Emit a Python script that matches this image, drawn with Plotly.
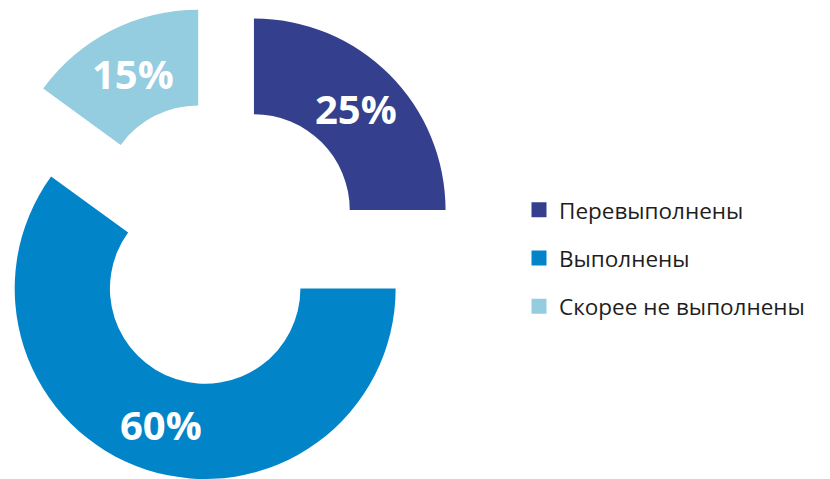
import math
import plotly.graph_objects as go

# Survey result: share of goals by completion status
labels = ["Перевыполнены", "Выполнены", "Скорее не выполнены"]
shares = [25, 60, 15]
colors = ["#343f8d", "#0284c9", "#93cddf"]

W, H = 830, 479
ring_center = (220, 244)   # px, common centre of the exploded ring
radius = 191.6             # px, outer radius
explode = 48               # px, how far each sector is pushed out
hole = 0.5

fig = go.Figure()
annotations = []

total = sum(shares)
cum = 0
for i, (lab, val, col) in enumerate(zip(labels, shares, colors)):
    # bisector of this sector, measured clockwise from 12 o'clock
    mid = math.radians((cum + val / 2) / total * 360)
    cum += val
    sx = ring_center[0] + explode * math.sin(mid)
    sy = ring_center[1] - explode * math.cos(mid)
    x0 = max(0.0, (sx - radius) / W)
    x1 = min(1.0, (sx + radius) / W)
    y0 = max(0.0, 1 - (sy + radius) / H)
    y1 = min(1.0, 1 - (sy - radius) / H)

    fig.add_trace(go.Pie(
        values=shares,
        labels=labels,
        sort=False,
        direction="clockwise",
        rotation=0,
        hole=hole,
        marker=dict(
            colors=[col if j == i else "rgba(0,0,0,0)" for j in range(len(shares))],
            line=dict(width=0),
        ),
        textinfo="none",
        domain=dict(x=[x0, x1], y=[y0, y1]),
        showlegend=False,
        hoverinfo="skip",
    ))

    # percentage label in the middle of the ring band, on the bisector
    r_eff = min((x1 - x0) * W, (y1 - y0) * H) / 2
    cx = (x0 + x1) / 2 * W
    cy = (1 - (y0 + y1) / 2) * H
    rho = r_eff * (1 + hole) / 2
    annotations.append(dict(
        x=(cx + rho * math.sin(mid)) / W,
        y=1 - (cy - rho * math.cos(mid)) / H,
        xref="paper", yref="paper",
        text=f"{val}%", showarrow=False,
        xanchor="center", yanchor="middle",
        font=dict(family="Open Sans", size=40, color="white", weight="bold"),
    ))

# legend entries
for lab, col in zip(labels, colors):
    fig.add_trace(go.Scatter(
        x=[None], y=[None], mode="markers", name=lab, legendgroup=lab,
        marker=dict(symbol="square", size=15, color=col),
    ))

fig.update_layout(
    width=W, height=H,
    margin=dict(l=0, r=0, t=0, b=0),
    paper_bgcolor="white",
    plot_bgcolor="white",
    xaxis=dict(visible=False),
    yaxis=dict(visible=False),
    annotations=annotations,
    legend=dict(
        x=519 / W, y=0.461, xanchor="left", yanchor="middle",
        font=dict(family="Open Sans", size=22.5, color="#1e1e1e"),
        tracegroupgap=16,
        bgcolor="rgba(0,0,0,0)",
    ),
)

fig.write_html("out.html")
